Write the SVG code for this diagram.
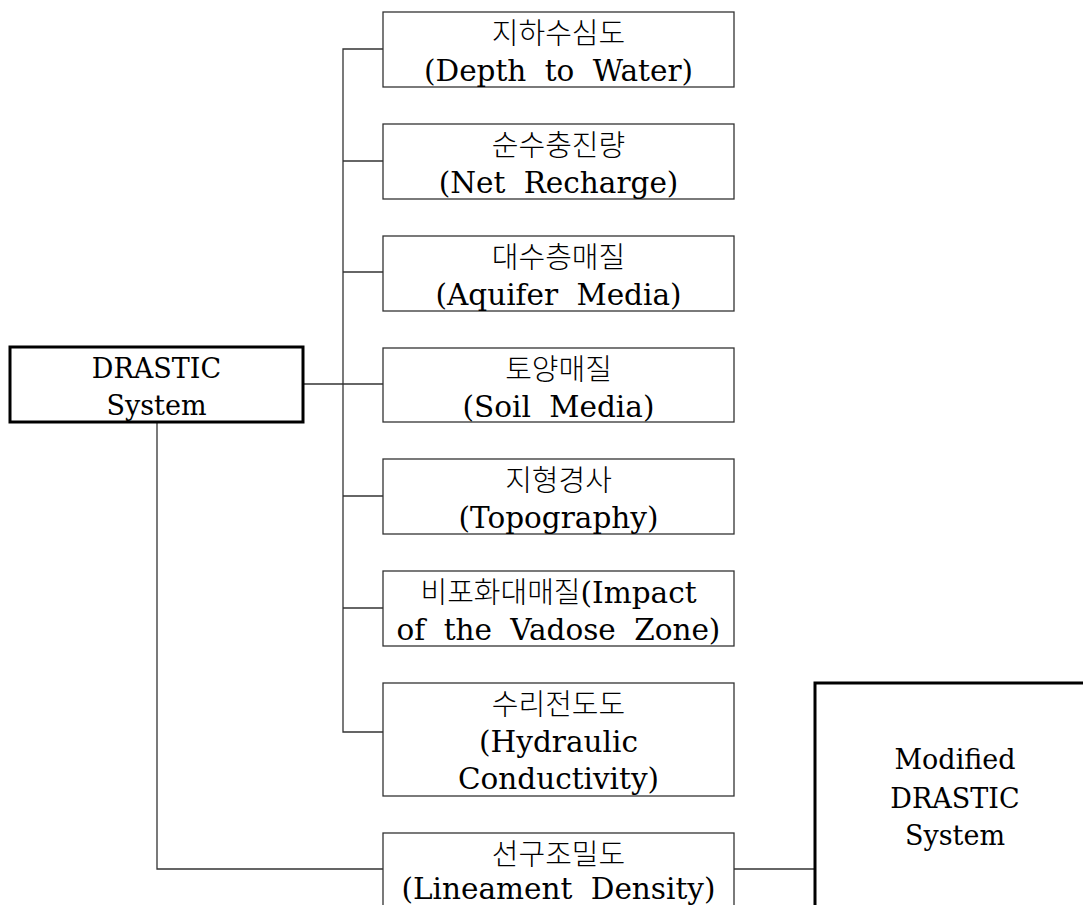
<svg xmlns="http://www.w3.org/2000/svg" width="1083" height="905" viewBox="0 0 1083 905">
<style>
.box{fill:#fff;stroke:#333;stroke-width:1.3}
.thick{fill:#fff;stroke:#000;stroke-width:3}
.ln{fill:none;stroke:#333;stroke-width:1.3}
text{font-family:"DejaVu Serif","Noto Sans CJK KR",serif;font-size:29.5px;fill:#000;text-anchor:middle;word-spacing:9px}
.ko{font-family:"Noto Sans CJK KR","Noto Sans",sans-serif;font-size:29px;font-weight:300}
.big{font-size:27px;word-spacing:0}
</style>
<rect width="1083" height="905" fill="#fff"/>
<g id="connectors">
<polyline class="ln" points="383,49 343,49 343,732 383,732"/>
<line class="ln" x1="343" y1="161" x2="383" y2="161"/>
<line class="ln" x1="343" y1="272" x2="383" y2="272"/>
<line class="ln" x1="303" y1="384" x2="383" y2="384"/>
<line class="ln" x1="343" y1="496" x2="383" y2="496"/>
<line class="ln" x1="343" y1="608" x2="383" y2="608"/>
<polyline class="ln" points="157,422 157,869 383,869"/>
<line class="ln" x1="734" y1="869" x2="815" y2="869"/>
</g>
<g id="drastic">
<rect class="thick" x="10" y="347" width="293" height="75"/>
<text class="big" x="156.5" y="378">DRASTIC</text>
<text class="big" x="156.5" y="415">System</text>
</g>
<g id="n1">
<rect class="box" x="383" y="12" width="351" height="75"/>
<text class="ko" x="558.5" y="44">지하수심도</text>
<text x="558.5" y="81">(Depth to Water)</text>
</g>
<g id="n2">
<rect class="box" x="383" y="124" width="351" height="75"/>
<text class="ko" x="558.5" y="156">순수충진량</text>
<text x="558.5" y="193">(Net Recharge)</text>
</g>
<g id="n3">
<rect class="box" x="383" y="236" width="351" height="75"/>
<text class="ko" x="558.5" y="268">대수층매질</text>
<text x="558.5" y="305">(Aquifer Media)</text>
</g>
<g id="n4">
<rect class="box" x="383" y="348" width="351" height="74"/>
<text class="ko" x="558.5" y="380">토양매질</text>
<text x="558.5" y="417">(Soil Media)</text>
</g>
<g id="n5">
<rect class="box" x="383" y="459" width="351" height="75"/>
<text class="ko" x="558.5" y="491">지형경사</text>
<text x="558.5" y="528">(Topography)</text>
</g>
<g id="n6">
<rect class="box" x="383" y="571" width="351" height="75"/>
<text x="558.5" y="603"><tspan class="ko">비포화대매질</tspan>(Impact</text>
<text x="558.5" y="640">of the Vadose Zone)</text>
</g>
<g id="n7">
<rect class="box" x="383" y="683" width="351" height="113"/>
<text class="ko" x="558.5" y="715">수리전도도</text>
<text x="558.5" y="752">(Hydraulic</text>
<text x="558.5" y="789">Conductivity)</text>
</g>
<g id="n8">
<rect class="box" x="383" y="833" width="351" height="100"/>
<text class="ko" x="558.5" y="865">선구조밀도</text>
<text x="558.5" y="899">(Lineament Density)</text>
</g>
<g id="modified">
<rect class="thick" x="815" y="683" width="290" height="260"/>
<text class="big" x="955" y="769">Modified</text>
<text class="big" x="955" y="808">DRASTIC</text>
<text class="big" x="955" y="845">System</text>
</g>
</svg>
